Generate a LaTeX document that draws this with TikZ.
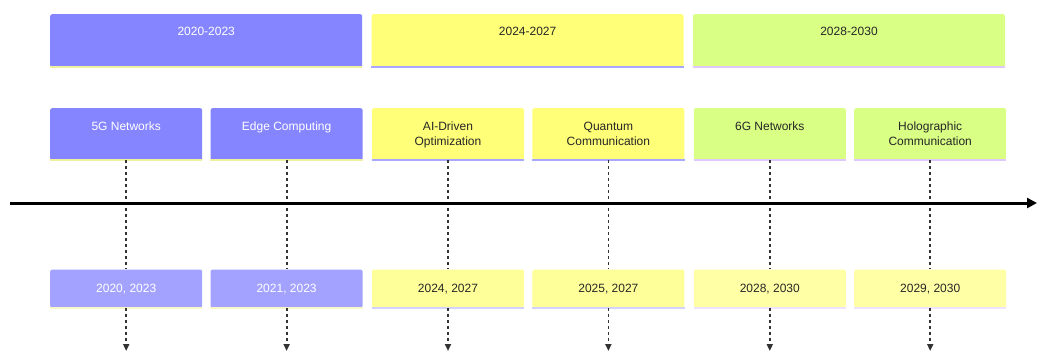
\documentclass[tikz,border=0pt]{standalone}
\usepackage{fontspec}
\setmainfont{Liberation Sans}
\usetikzlibrary{arrows.meta,positioning}
\definecolor{blueA}{HTML}{8585FF}
\definecolor{blueB}{HTML}{A3A3FF}
\definecolor{yelA}{HTML}{FFFF78}
\definecolor{yelB}{HTML}{FFFF99}
\definecolor{greenA}{HTML}{D9FF85}
\definecolor{yelC}{HTML}{FFFFA6}
\definecolor{lineY}{HTML}{F0F0A0}
\definecolor{lineB}{HTML}{A8A8FF}
\definecolor{lineL}{HTML}{E0C8FF}
\tikzset{
  >={Triangle[length=7pt,width=6pt]},
  sect/.style={rounded corners=2pt, minimum width=312pt, minimum height=53pt, inner sep=0pt, anchor=north west},
  evt/.style={rounded corners=2pt, minimum width=152pt, minimum height=52pt, inner sep=0pt},
  datebox/.style={rounded corners=2pt, minimum width=152pt, minimum height=38pt, inner sep=0pt, align=center, font=\fontsize{12}{14}\selectfont},
  txt/.style={anchor=north, align=center, inner sep=0pt, font=\fontsize{12}{15}\selectfont},
  guide/.style={draw=black!80, line width=1.8pt, dash pattern=on 3pt off 3pt},
  edge/.style={line width=2pt},
}
\begin{document}
\begin{tikzpicture}[x=1pt, y=-1pt]
  \useasboundingbox[fill=white] (0,0) rectangle (1037,351);
  % section headers
  \node[sect, fill=blueA] (s1) at (50,14) {};
  \node[sect, fill=yelA, right=9pt of s1] (s2) {};
  \node[sect, fill=greenA, right=9pt of s2] (s3) {};
  \node[txt, white, below=13pt of s1.north] {2020-2023};
  \node[txt, black!85, below=13pt of s2.north] {2024-2027};
  \node[txt, black!85, below=13pt of s3.north] {2028-2030};
  \draw[edge, lineY] (s1.south west) -- (s1.south east);
  \draw[edge, lineB] (s2.south west) -- (s2.south east);
  \draw[edge, lineL] (s3.south west) -- (s3.south east);
  % events
  \node[evt, fill=blueA, anchor=north west] (e1) at (50,108) {};
  \node[evt, fill=blueA, right=8pt of e1] (e2) {};
  \node[evt, fill=yelA, right=9pt of e2] (e3) {};
  \node[evt, fill=yelA, right=8pt of e3] (e4) {};
  \node[evt, fill=greenA, right=9pt of e4] (e5) {};
  \node[evt, fill=greenA, right=8pt of e5] (e6) {};
  \node[txt, white, below=14pt of e1.north] {5G Networks};
  \node[txt, white, below=14pt of e2.north] {Edge Computing};
  \node[txt, black!85, below=14pt of e3.north] {AI-Driven\\Optimization};
  \node[txt, black!85, below=14pt of e4.north] {Quantum\\Communication};
  \node[txt, black!85, below=14pt of e5.north] {6G Networks};
  \node[txt, black!85, below=14pt of e6.north] {Holographic\\Communication};
  \draw[edge, lineY] (e1.south west) -- (e1.south east);
  \draw[edge, lineY] (e2.south west) -- (e2.south east);
  \draw[edge, lineB] (e3.south west) -- (e3.south east);
  \draw[edge, lineB] (e4.south west) -- (e4.south east);
  \draw[edge, lineL] (e5.south west) -- (e5.south east);
  \draw[edge, lineL] (e6.south west) -- (e6.south east);
  % dates
  \node[datebox, fill=blueB, text=white, below=109pt of e1] (d1) {2020, 2023};
  \node[datebox, fill=blueB, text=white, below=109pt of e2] (d2) {2021, 2023};
  \node[datebox, fill=yelB, text=black!85, below=109pt of e3] (d3) {2024, 2027};
  \node[datebox, fill=yelB, text=black!85, below=109pt of e4] (d4) {2025, 2027};
  \node[datebox, fill=yelC, text=black!85, below=109pt of e5] (d5) {2028, 2030};
  \node[datebox, fill=yelC, text=black!85, below=109pt of e6] (d6) {2029, 2030};
  \draw[edge, line width=1.5pt, lineY!60] (d1.south west) -- (d1.south east);
  \draw[edge, line width=1.5pt, lineY!60] (d2.south west) -- (d2.south east);
  \draw[edge, line width=1.5pt, lineB!50] (d3.south west) -- (d3.south east);
  \draw[edge, line width=1.5pt, lineB!50] (d4.south west) -- (d4.south east);
  \draw[edge, line width=1.5pt, lineL!50] (d5.south west) -- (d5.south east);
  \draw[edge, line width=1.5pt, lineL!50] (d6.south west) -- (d6.south east);
  % ends of the guides
  \coordinate (b1) at (e1.south |- 0,351);
  \coordinate (b2) at (e2.south |- 0,351);
  \coordinate (b3) at (e3.south |- 0,351);
  \coordinate (b4) at (e4.south |- 0,351);
  \coordinate (b5) at (e5.south |- 0,351);
  \coordinate (b6) at (e6.south |- 0,351);
  \draw[guide] (e1.south) -- (d1.north);
  \draw[guide] (e2.south) -- (d2.north);
  \draw[guide] (e3.south) -- (d3.north);
  \draw[guide] (e4.south) -- (d4.north);
  \draw[guide] (e5.south) -- (d5.north);
  \draw[guide] (e6.south) -- (d6.north);
  \draw[guide, ->] (d1.south) -- (b1);
  \draw[guide, ->] (d2.south) -- (b2);
  \draw[guide, ->] (d3.south) -- (b3);
  \draw[guide, ->] (d4.south) -- (b4);
  \draw[guide, ->] (d5.south) -- (b5);
  \draw[guide, ->] (d6.south) -- (b6);
  % time axis
  \coordinate (ax0) at (10,203);
  \coordinate (ax1) at (1037,203);
  \draw[line width=3pt, -{Triangle[length=10pt,width=10pt]}] (ax0) -- (ax1);
\end{tikzpicture}
\end{document}
